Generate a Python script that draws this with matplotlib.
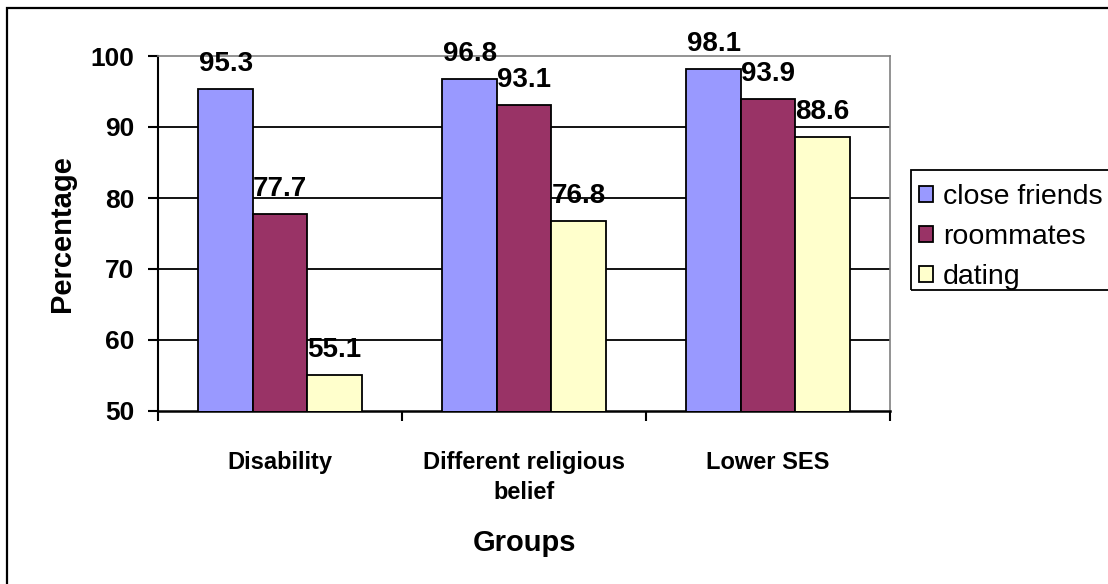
import matplotlib.pyplot as plt
import numpy as np
from matplotlib.patches import Rectangle

plt.rcParams['font.family'] = ['Liberation Sans', 'DejaVu Sans']

groups = ["Disability", "Different religious\nbelief", "Lower SES"]
series = ["close friends", "roommates", "dating"]
close_friends = [95.3, 96.8, 98.1]
roommates = [77.7, 93.1, 93.9]
dating = [55.1, 76.8, 88.6]
colors = ["#9999FF", "#993366", "#FFFFCC"]


def main():
  fig = plt.figure(figsize=(11.08, 5.84), dpi=100)
  ax = fig.add_axes([158 / 1108, 1 - 411 / 584, 732 / 1108, 355 / 584])

  # chart border (runs off the right and bottom edges)
  fig.patches.append(Rectangle((7 / 1108, -0.5), 2.0, 1 - 7.5 / 584 + 0.5,
                               transform=fig.transFigure, fill=False,
                               edgecolor="black", linewidth=1.6))

  x = np.arange(len(groups))
  w = 0.223
  bars = []
  for i, vals in enumerate([close_friends, roommates, dating]):
    b = ax.bar(x + (i - 1) * w, vals, w, bottom=0, color=colors[i],
               edgecolor="black", linewidth=1.3, label=series[i], zorder=3)
    bars.append(b)
    for xi, v in zip(x + (i - 1) * w, vals):
      ax.annotate("%.1f" % v, (xi, v), xytext=(0, 13),
                  textcoords="offset points", ha="center", va="baseline",
                  fontsize=20, fontweight="bold", zorder=5,
                  annotation_clip=False)

  ax.set_ylim(50, 100)
  ax.set_xlim(-0.5, 2.5)
  ax.set_yticks([50, 60, 70, 80, 90, 100])
  ax.yaxis.grid(True, color="black", linewidth=1.3, zorder=0)
  ax.set_axisbelow(True)
  # no gridline on the axis line or the plot border
  gl = ax.yaxis.get_gridlines()
  gl[0].set_visible(False)
  gl[-1].set_visible(False)

  # category labels centred, tick marks at category boundaries
  ax.set_xticks(x)
  ax.set_xticklabels(groups, fontsize=17, fontweight="bold",
                     linespacing=1.4, va="top")
  ax.set_xticks([-0.5, 0.5, 1.5, 2.5], minor=True)
  ax.tick_params(axis="x", which="major", length=0, pad=29)
  ax.tick_params(axis="x", which="minor", length=7, width=1.5,
                 direction="out", color="black")
  ax.tick_params(axis="y", length=7, width=1.5, direction="out",
                 labelsize=19, pad=10)
  for t in ax.get_yticklabels():
    t.set_fontweight("bold")

  ax.spines["left"].set_linewidth(1.5)
  ax.spines["bottom"].set_linewidth(1.8)
  ax.spines["top"].set_color("#808080")
  ax.spines["right"].set_color("#808080")
  ax.spines["top"].set_linewidth(1.2)
  ax.spines["right"].set_linewidth(1.2)

  ax.set_ylabel("Percentage", fontsize=21, fontweight="bold")
  ax.yaxis.set_label_coords((62 - 158) / 732, 0.5)
  ax.yaxis.label.set_va("center")
  ax.set_xlabel("Groups", fontsize=21, fontweight="bold")
  ax.xaxis.set_label_coords(0.5, (411 - 543) / 355)
  ax.xaxis.label.set_va("center")

  # legend box, cut by the right edge
  fig.patches.append(Rectangle((911 / 1108, 1 - 290 / 584), 0.5,
                               120 / 584, transform=fig.transFigure,
                               fill=False, edgecolor="black",
                               linewidth=1.3))
  fig.legend(handles=bars, labels=series, loc="upper left",
             bbox_to_anchor=(919 / 1108, 1 - 184 / 584), frameon=False,
             fontsize=20.5, handlelength=0.5, handleheight=0.5,
             handletextpad=0.35, labelspacing=0.5, borderpad=0,
             borderaxespad=0)

  fig.savefig("out.png", dpi=100)


if __name__ == '__main__':
  main()
